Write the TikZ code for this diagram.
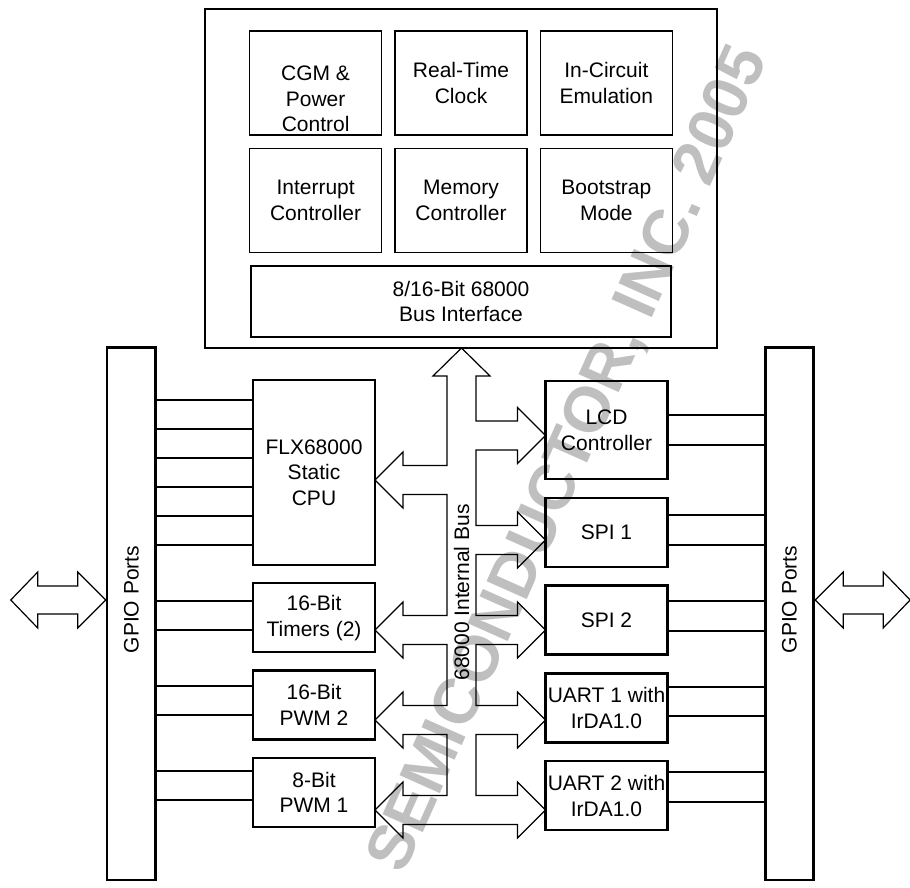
\documentclass[tikz,border=0pt]{standalone}
\usepackage{fontspec}
\usepackage{graphicx}
\setmainfont{Liberation Sans}
\usetikzlibrary{positioning}

\tikzset{
  blk/.style={draw, line width=0.85pt, align=center, inner sep=1pt,
    font=\fontsize{10.5}{12.8}\selectfont},
  subblk/.style={blk, minimum width=66pt, minimum height=52pt},
  modblk/.style={blk, line width=1.15pt, minimum width=61pt, minimum height=34.5pt},
  portbar/.style={draw, line width=1.35pt, minimum width=24.3pt, minimum height=266.3pt,
    inner sep=0pt, font=\fontsize{10.5}{12.8}\selectfont},
  pin/.style={line width=0.7pt},
  busline/.style={line width=0.6pt, line join=miter},
}

\begin{document}
\begin{tikzpicture}[x=0.5pt, y=-0.5pt, node distance=5.85pt]
    \useasboundingbox (0,0) rectangle (910,888);

    % watermark
    \node[text=black!25, font=\fontsize{32}{32}\selectfont\bfseries, rotate=66] (wmark) at (570,460) {SEMICONDUCTOR, INC. 2005};

    % system block
    \node[draw, line width=1.4pt, minimum width=256pt, minimum height=169.5pt] (core) at (461,178.5) {};
    \node[subblk] (rtc) at (461,83) {Real-Time\\Clock};
    \node[subblk, left=of rtc] (cgm) {\raisebox{-9pt}[\height][\depth]{\begin{tabular}{@{}c@{}}CGM \&\\Power\\Control\end{tabular}}};
    \node[subblk, right=of rtc] (ice) {In-Circuit\\Emulation};
    \node[subblk, below=of rtc] (memc) {Memory\\Controller};
    \node[subblk, left=of memc] (intc) {Interrupt\\Controller};
    \node[subblk, right=of memc] (boot) {Bootstrap\\Mode};
    \node[blk, minimum width=210pt, minimum height=35.5pt, below=of memc] (busif) {8/16-Bit 68000\\Bus Interface};

    % left modules
    \node[modblk, minimum height=92.5pt] (cpu) at (314,472.5) {FLX68000\\Static\\CPU};
    \node[modblk, below=8pt of cpu] (tmr) {16-Bit\\Timers (2)};
    \node[modblk, below=8pt of tmr] (pwmb) {16-Bit\\PWM 2};
    \node[modblk, below=8pt of pwmb] (pwma) {8-Bit\\PWM 1};

    % right modules
    \node[modblk, minimum height=49pt] (lcd) at (606.5,430) {LCD\\Controller};
    \node[modblk, below=8.25pt of lcd] (spia) {SPI 1};
    \node[modblk, below=8.25pt of spia] (spib) {SPI 2};
    \node[modblk, below=8.25pt of spib] (uarta) {UART 1 with\\IrDA1.0};
    \node[modblk, below=8.25pt of uarta] (uartb) {UART 2 with\\IrDA1.0};

    % GPIO ports
    \node[portbar, text depth=14pt] (gpiol) at (131.4,613.6) {\rotatebox{90}{GPIO Ports}};
    \node[portbar, text depth=14pt] (gpior) at (789.5,613.6) {\rotatebox{90}{GPIO Ports}};

    \foreach \m/\y in {cpu/400, cpu/429, cpu/458, cpu/487, cpu/516, cpu/545,
                       tmr/601, tmr/630, pwmb/686, pwmb/715, pwma/771, pwma/800}
        \draw[pin] (gpiol.east |- 0,\y) -- (\m.west |- 0,\y);
    \foreach \m/\y in {lcd/415, lcd/445, spia/515, spia/545, spib/601, spib/631,
                       uarta/687, uarta/716, uartb/772, uartb/802}
        \draw[pin] (\m.east |- 0,\y) -- (gpior.west |- 0,\y);

    % external port arrows
    \foreach \s/\d in {gpiol.west/-1, gpior.east/1}
        \draw[busline, shift={(\s |- 0,600)}, xscale=\d]
            (0,0) -- (28,-28) -- (28,-14) -- (68,-14) -- (68,-28) -- (95,0)
            -- (68,28) -- (68,14) -- (28,14) -- (28,28) -- cycle;

    % internal bus
    \draw[busline] (461.5,348) -- (490,376) -- (476,376)
        foreach \y in {435.5,540,630,720} {
            -- (476,\y-14.5) -- (517.5,\y-14.5) -- (517.5,\y-28) -- (545.5,\y)
            -- (517.5,\y+28) -- (517.5,\y+14.5) -- (476,\y+14.5) }
        -- (476,795.5) -- (517.5,795.5) -- (517.5,782) -- (545.5,810)
        -- (517.5,838) -- (517.5,824.5) -- (403,824.5) -- (403,838)
        -- (375,810) -- (403,782) -- (403,795.5) -- (447,795.5)
        foreach \y in {720,630,480} {
            -- (447,\y+14.5) -- (403,\y+14.5) -- (403,\y+28) -- (375,\y)
            -- (403,\y-28) -- (403,\y-14.5) -- (447,\y-14.5) }
        -- (447,376) -- (433,376) -- cycle;
    \node[rotate=90, font=\fontsize{10.5}{12.8}\selectfont] (buslbl) at (461.5,592.5) {68000 Internal Bus};
\end{tikzpicture}
\end{document}
